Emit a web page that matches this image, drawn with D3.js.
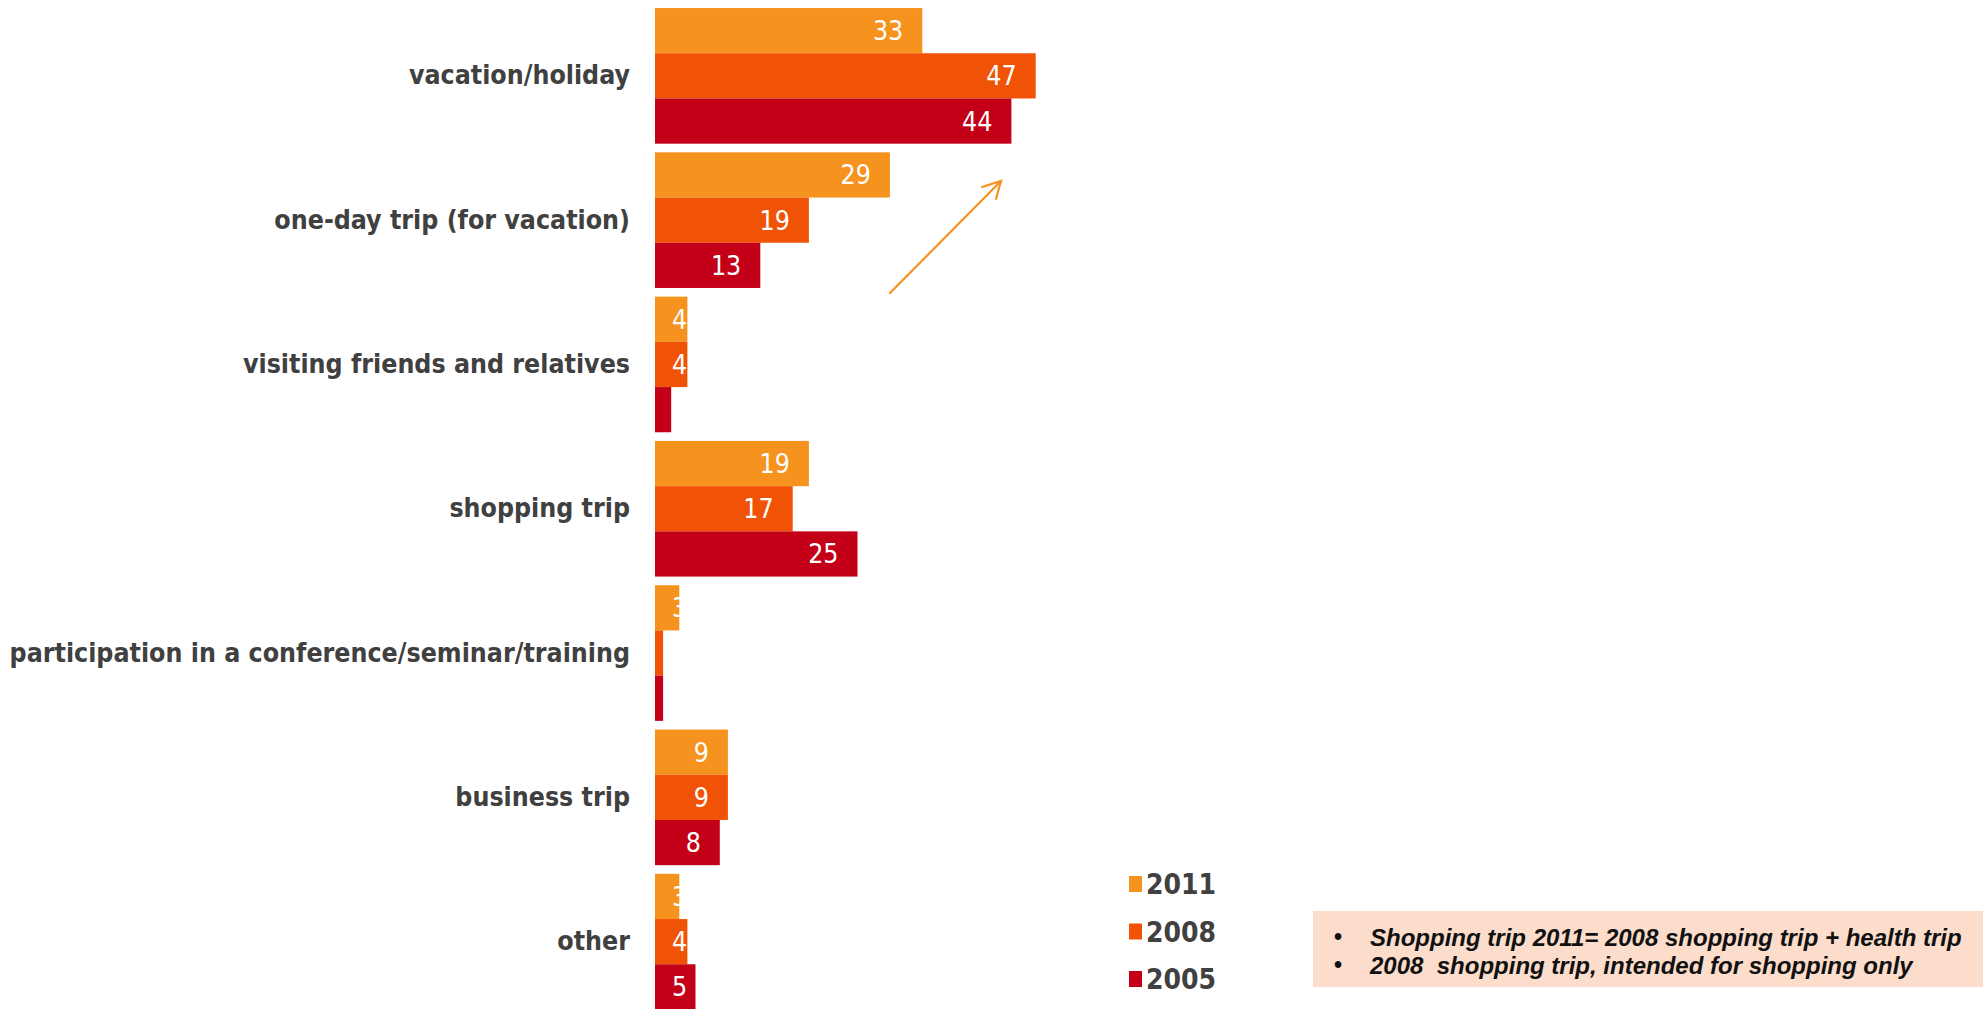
<!DOCTYPE html>
<html>
<head>
<meta charset="utf-8">
<script src="https://cdn.jsdelivr.net/npm/d3@7"></script>
<style>
  html, body { margin: 0; padding: 0; background: #fff; }
  svg { display: block; }
</style>
</head>
<body>
<svg id="chart" width="1983" height="1009"></svg>
<script>
// Purpose of trip, share of respondents (%)
const categories = [
  "vacation/holiday",
  "one-day trip (for vacation)",
  "visiting friends and relatives",
  "shopping trip",
  "participation in a conference/seminar/training",
  "business trip",
  "other"
];
const years = ["2011", "2008", "2005"];
const values2011 = [33, 29, 4, 19, 3, 9, 3];
const values2008 = [47, 19, 4, 17, 1, 9, 4];
const values2005 = [44, 13, 2, 25, 1, 8, 5];
const yearColors = ["#F6921E", "#F05305", "#C40018"];
const notes = [
  "Shopping trip 2011= 2008 shopping trip + health trip",
  "2008  shopping trip, intended for shopping only"
];

const seriesValues = [values2011, values2008, values2005];
const rows = categories.map((c, i) => ({
  category: c,
  bars: years.map((y, k) => ({ year: y, value: seriesValues[k][i], color: yearColors[k] }))
}));

const svg = d3.select("#chart");

const x = d3.scaleLinear().domain([0, 50]).range([655, 1060]);
const y = d3.scaleBand().domain(categories).range([3.7, 1013.8])
  .paddingInner(0.06).paddingOuter(0.03);
const ySub = d3.scaleBand().domain(years).range([0, y.bandwidth()]);

const catFont = "'DejaVu Sans Condensed', 'DejaVu Sans', sans-serif";

// category axis labels
const yAxis = d3.axisLeft(y).tickSize(0).tickPadding(0);
const axisG = svg.append("g").attr("transform", "translate(630,0)").call(yAxis);
axisG.select(".domain").remove();
axisG.selectAll("text")
  .attr("font-family", catFont)
  .attr("font-weight", "bold")
  .attr("font-size", 26.5)
  .attr("fill", "#404040");

const groups = svg.append("g").selectAll("g")
  .data(rows).join("g")
  .attr("transform", d => `translate(0,${y(d.category)})`);

groups.selectAll("rect")
  .data(d => d.bars).join("rect")
  .attr("x", x(0))
  .attr("y", d => ySub(d.year))
  .attr("width", d => x(d.value) - x(0))
  .attr("height", ySub.bandwidth())
  .attr("fill", d => d.color);

// value labels: inside the bar end, pushed right when the bar is too short
groups.selectAll("text.val")
  .data(d => d.bars).join("text")
  .attr("class", "val")
  .attr("y", d => ySub(d.year) + ySub.bandwidth() / 2)
  .attr("dy", "0.36em")
  .attr("text-anchor", "end")
  .attr("font-family", catFont)
  .attr("font-size", 26.5)
  .attr("fill", "#fff")
  .text(d => d.value)
  .attr("x", function(d) {
    const w = this.getComputedTextLength();
    return Math.max(x(d.value) - 19, x(0) + 17 + w);
  });

// trend arrow
const arrow = svg.append("g")
  .attr("stroke", "#F6921E").attr("stroke-width", 2.2).attr("fill", "none")
  .attr("stroke-linecap", "round");
arrow.append("line").attr("x1", 890).attr("y1", 293).attr("x2", 1001).attr("y2", 181);
arrow.append("polyline").attr("points", "982,187 1001,181 996,199");

// legend
const legend = svg.append("g").selectAll("g")
  .data(years).join("g")
  .attr("transform", (d, i) => `translate(1129,${884 + i * 47.5})`);
legend.append("rect")
  .attr("x", 0).attr("y", -8).attr("width", 13).attr("height", 16)
  .attr("fill", (d, i) => yearColors[i]);
legend.append("text")
  .attr("x", 17).attr("dy", "0.36em")
  .attr("font-family", catFont)
  .attr("font-weight", "bold")
  .attr("font-size", 28)
  .attr("fill", "#404040")
  .text(d => d);

// note box
const noteG = svg.append("g");
noteG.append("rect")
  .attr("x", 1313).attr("y", 911).attr("width", 670).attr("height", 76)
  .attr("fill", "#FCDCCB");
const noteText = noteG.selectAll("g.note").data(notes).join("g")
  .attr("class", "note")
  .attr("transform", (d, i) => `translate(0,${937 + i * 28})`);
noteText.append("text")
  .attr("x", 1334).attr("dy", "0.36em")
  .attr("font-family", "'Liberation Sans', Arial, sans-serif")
  .attr("font-weight", "bold").attr("font-size", 23).attr("fill", "#111")
  .text("\u2022");
noteText.append("text")
  .attr("x", 1370).attr("dy", "0.36em")
  .attr("font-family", "'Liberation Sans', Arial, sans-serif")
  .attr("font-weight", "bold").attr("font-style", "italic")
  .attr("font-size", 24).attr("fill", "#111")
  .style("white-space", "pre")
  .text(d => d);
</script>
</body>
</html>
